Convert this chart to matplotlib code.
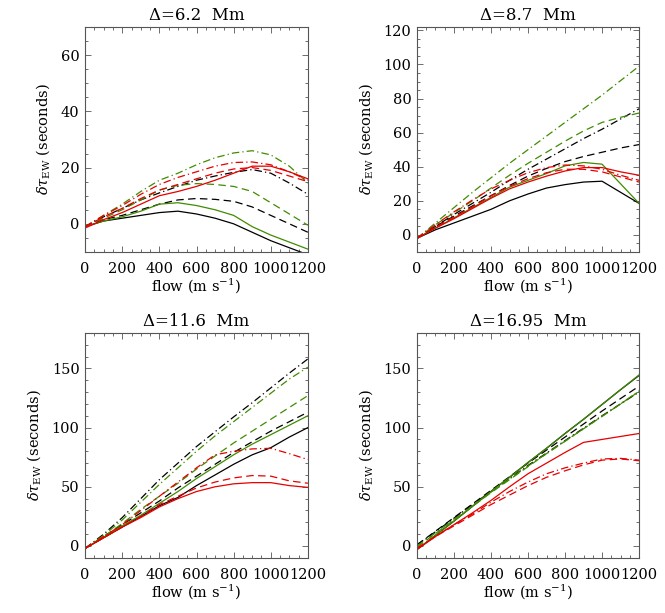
import numpy as np
import matplotlib
matplotlib.use('Agg')
import matplotlib.pyplot as plt
from matplotlib.ticker import MultipleLocator

plt.rcParams['font.family'] = ['DejaVu Serif']
plt.rcParams['mathtext.fontset'] = 'dejavuserif'

# flow speeds (m/s)
flow = [0, 100, 200, 300, 400, 500, 600, 700, 800, 900, 1000, 1100, 1200]

titles = ['\u0394=6.2  Mm', '\u0394=8.7  Mm', '\u0394=11.6  Mm', '\u0394=16.95  Mm']

# panel 1 : Delta = 6.2 Mm
p1_black_solid = [-1, 1, 2, 3, 4, 4.5, 3.5, 2, 0, -3, -6, -8.5, -11]
p1_black_dash = [-1, 1.5, 3, 5, 7, 8.5, 9, 8.7, 8, 6, 3, 0, -3]
p1_black_dashdot = [-1, 2.5, 5.5, 8.5, 11, 13.3, 15.5, 17, 18.3, 19.3, 18, 14.5, 10.5]
p1_green_solid = [-1, 1, 2.5, 4.5, 7, 7.5, 6.5, 5, 3, -1, -4, -6.5, -9]
p1_green_dash = [-1, 2, 5, 8.5, 12, 13.7, 14.3, 14, 13.3, 11.5, 7.5, 3.5, -0.5]
p1_green_dashdot = [-1, 3, 7, 11.5, 15.5, 18, 21, 23.5, 25.2, 26, 24.5, 20.5, 14.5]
p1_red_solid = [-1.5, 1.5, 4, 7, 10, 11.5, 13.3, 15.5, 18, 20.5, 20.5, 18.5, 16]
p1_red_dash = [-1, 2.5, 5.5, 9, 12, 14, 16, 18, 19.5, 20, 19, 17, 15]
p1_red_dashdot = [-1, 3, 6.5, 10.5, 14, 16.5, 18.5, 20.5, 21.8, 22, 21, 18.5, 15.5]

# panel 2 : Delta = 8.7 Mm
p2_black_solid = [-2, 3, 7, 11, 15, 20, 24, 27.5, 29.5, 31, 31.5, 25, 18.5]
p2_black_dash = [-2, 5, 11, 17, 23, 29, 34.5, 39, 43, 46, 48.5, 51, 53]
p2_black_dashdot = [-2, 5, 12, 18.5, 25, 32, 38.5, 44.5, 50.5, 56.5, 62, 68, 74]
p2_green_solid = [-2, 4, 10, 16, 22, 28, 32, 36, 40.5, 42.5, 41.5, 30, 18.5]
p2_green_dash = [-2, 6, 13, 20, 27.5, 35, 42, 48.5, 55, 61, 66, 69, 71.5]
p2_green_dashdot = [-2, 7, 16, 25, 33.5, 42, 50, 58, 66, 74, 82, 90.5, 99]
p2_red_solid = [-2, 4, 9.5, 15.5, 21.5, 27, 31, 34.5, 37.5, 39.5, 39.5, 37, 35]
p2_red_dash = [-2, 4.5, 10.5, 16.5, 23, 28.5, 33, 36.5, 38.5, 38.5, 37, 34, 31]
p2_red_dashdot = [-2, 6, 13.5, 20.5, 27, 32, 36.5, 39.5, 41, 40.5, 38.5, 35, 32]

# panel 3 : Delta = 11.6 Mm
p3_black_solid = [-2, 7, 16, 25, 34, 41, 51, 60, 69, 77, 83, 92, 100]
p3_black_dash = [-2, 8, 18, 28, 38, 49, 59, 69, 79, 88, 97, 105, 113]
p3_black_dashdot = [-2, 10, 24, 40, 56, 70, 84, 96.5, 109, 121, 133.5, 146, 158]
p3_green_solid = [-2, 7, 17, 26, 36, 46, 57, 67, 77, 86, 94, 102, 110]
p3_green_dash = [-2, 8, 19, 31, 42, 53, 65, 76, 87, 97, 107, 117, 127]
p3_green_dashdot = [-2, 9, 22, 37, 52, 66, 80, 93, 105, 117, 129, 141, 151]
p3_red_solid = [-2, 7, 16, 24, 33, 40, 46, 50, 52.5, 53.5, 53.5, 51, 49.5]
p3_red_dash = [-2, 7, 16, 25, 35, 42, 49, 54, 57.5, 59.5, 59, 55, 53]
p3_red_dashdot = [-2, 8, 18, 30, 42, 54, 66, 77, 80, 82, 82.5, 78, 73]

# panel 4 : Delta = 16.95 Mm
p4_black_solid = [-3, 9, 21, 33.5, 46, 58, 70.5, 82.5, 95, 107, 119.5, 132, 144]
p4_black_dash = [1, 12.5, 24, 35.5, 47, 58.5, 70, 81, 92, 103, 114, 124.5, 135]
p4_black_dashdot = [1, 12, 23.5, 35, 46, 57, 68, 78.5, 89, 99.5, 110, 120, 130]
p4_green_solid = [-3, 9, 21, 33.5, 46, 58, 70.5, 82.5, 95, 107, 119.5, 132, 144.5]
p4_green_dash = [-1, 10.5, 22, 33.5, 45, 56, 67, 78, 88.5, 99, 109.5, 120, 130.5]
p4_green_dashdot = [0, 11, 22.5, 34, 45.5, 56.5, 67.5, 78, 88.5, 99, 109.5, 120, 131]
p4_red_solid = [-3, 8, 18, 28, 38.5, 50, 61, 70, 79, 87.5, 90, 92.5, 95]
p4_red_dash = [-2, 8, 17, 26, 35, 43, 51, 58, 63.5, 68.5, 72.5, 73.5, 72]
p4_red_dashdot = [-2, 8, 18, 27, 37, 46, 54, 61, 66, 70, 73.5, 74, 72.5]

panels = [
    [p1_black_solid, p1_black_dash, p1_black_dashdot, p1_green_solid, p1_green_dash,
     p1_green_dashdot, p1_red_solid, p1_red_dash, p1_red_dashdot],
    [p2_black_solid, p2_black_dash, p2_black_dashdot, p2_green_solid, p2_green_dash,
     p2_green_dashdot, p2_red_solid, p2_red_dash, p2_red_dashdot],
    [p3_black_solid, p3_black_dash, p3_black_dashdot, p3_green_solid, p3_green_dash,
     p3_green_dashdot, p3_red_solid, p3_red_dash, p3_red_dashdot],
    [p4_black_solid, p4_black_dash, p4_black_dashdot, p4_green_solid, p4_green_dash,
     p4_green_dashdot, p4_red_solid, p4_red_dash, p4_red_dashdot],
]

colors = ['black'] * 3 + ['#3f8c00'] * 3 + ['#e60000'] * 3
dashes = [(None), (6, 3.5), (6, 2.5, 1, 2.5)] * 3

ylims = [(-10, 70), (-10, 122), (-10, 180), (-10, 180)]
ymaj = [20, 20, 50, 50]
ymin = [5, 5, 10, 10]
positions = [[0.128, 0.589, 0.335, 0.367], [0.627, 0.589, 0.334, 0.367],
             [0.128, 0.090, 0.335, 0.367], [0.627, 0.090, 0.334, 0.367]]

fig = plt.figure(figsize=(6.65, 6.13), dpi=100)

for i in range(4):
    ax = fig.add_axes(positions[i])
    for j in range(9):
        line, = ax.plot(flow, panels[i][j], color=colors[j], lw=0.9)
        if dashes[j] is not None:
            line.set_dashes(dashes[j])
    ax.set_xlim(0, 1200)
    ax.set_ylim(*ylims[i])
    ax.xaxis.set_major_locator(MultipleLocator(200))
    ax.xaxis.set_minor_locator(MultipleLocator(50))
    ax.yaxis.set_major_locator(MultipleLocator(ymaj[i]))
    ax.yaxis.set_minor_locator(MultipleLocator(ymin[i]))
    ax.tick_params(which='both', direction='in', top=True, right=True,
                   labelsize=10.5, color='#555555', width=0.6, pad=4)
    ax.tick_params(axis='x', which='both', pad=7)
    ax.tick_params(which='major', length=4)
    ax.tick_params(which='minor', length=2.5)
    for sp in ax.spines.values():
        sp.set_linewidth(0.8)
        sp.set_color('#555555')
    ax.set_title(titles[i], fontsize=12, pad=5)
    ax.set_xlabel(r'flow (m s$^{-1}$)', fontsize=10.5, labelpad=0)
    ax.set_ylabel(r'$\delta\tau_{\mathrm{EW}}$ (seconds)', fontsize=10.5, labelpad=6)

fig.savefig('out.png', dpi=100)
